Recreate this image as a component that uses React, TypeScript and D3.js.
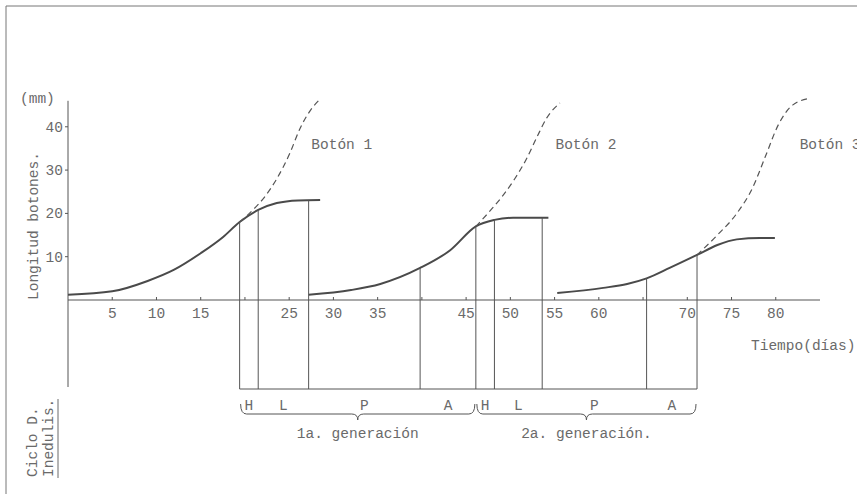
import React from "react";
import * as d3 from "d3";

// ---- data ----
const xTickValues = [5, 10, 15, 25, 30, 35, 45, 50, 55, 60, 70, 75, 80];
const xTickMarks = [5, 10, 15, 20, 25, 30, 35, 40, 45, 50, 55, 60, 65, 70, 75, 80];
const yTickValues = [10, 20, 30, 40];

// growth of bud 1 (solid) and its projected growth (dashed): [day, mm]
const bud1Solid: [number, number][] = [
  [0, 1.2], [5, 2.0], [9, 4.4], [12, 7.0], [15, 10.8], [17.5, 14.5],
  [19.4, 18], [21.5, 20.8], [23.6, 22.4], [26, 23], [28.5, 23.1],
];
const bud1Dashed: [number, number][] = [
  [19.4, 18], [20.9, 20.8], [22.3, 24], [23.6, 28], [25.1, 34], [26.2, 39.5],
  [27.4, 43.8], [28.5, 46.4],
];
const bud2Solid: [number, number][] = [
  [27.2, 1.2], [32, 2.3], [35.3, 3.7], [39.8, 7.4], [43.2, 11.5], [46.1, 17],
  [48.2, 18.5], [50.3, 19], [54.3, 19],
];
const bud2Dashed: [number, number][] = [
  [46.1, 17], [47.8, 20.8], [49.3, 24.5], [50.5, 28], [51.8, 32.5], [53.0, 37.6],
  [54.1, 42], [55.6, 45.5],
];
const bud3Solid: [number, number][] = [
  [55.3, 1.6], [60.5, 2.8], [63.2, 3.7], [65.4, 5], [68.0, 7.4], [71.1, 10.4],
  [73.4, 12.7], [75.6, 14], [78.2, 14.3], [79.9, 14.3],
];
const bud3Dashed: [number, number][] = [
  [71.1, 10.4], [73.4, 15], [75.6, 20], [77.4, 26], [78.8, 33], [80.3, 40.5],
  [81.9, 45], [83.9, 46.6],
];

const budLabels = ["Botón 1", "Botón 2", "Botón 3"];
const budLabelDays = [27.5, 55.1, 82.7];

// life-cycle phase boundaries (day, top of marker line in mm)
const boundaryDays = [19.4, 21.5, 27.2, 39.8, 46.1, 48.2, 53.6, 65.4, 71.1];
const boundaryTops = [18, 20.8, 23, 7.4, 17, 18.5, 19, 5, 10.4];
const phaseLabels = ["H", "L", "P", "A", "H", "L", "P", "A"];
const generations = ["1a. generación", "2a. generación."];
const generationSpans: [number, number][] = [[0, 4], [4, 8]];

const FONT = "'Liberation Mono', 'DejaVu Sans Mono', monospace";
const INK = "#555";
const TXT = "#6a6a6a";

export default function App() {
  const W = 857, H = 496;
  const x = d3.scaleLinear().domain([0, 85]).range([68, 820]);
  const y = d3.scaleLinear().domain([0, 46]).range([300, 100.8]);
  const line = d3
    .line<[number, number]>()
    .x((d) => x(d[0]))
    .y((d) => y(d[1]))
    .curve(d3.curveMonotoneX);

  const baseY = 389;
  const fs = 14.5;

  const brace = (x0: number, x1: number) => {
    const y0 = 404, y1 = 414, y2 = 420, r = 6;
    const xm = (x0 + x1) / 2;
    return `M${x0},${y0} Q${x0},${y1} ${x0 + r},${y1} L${xm - r},${y1} Q${xm},${y1} ${xm},${y2} Q${xm},${y1} ${xm + r},${y1} L${x1 - r},${y1} Q${x1},${y1} ${x1},${y0}`;
  };

  return (
    <svg width={W} height={H} style={{ position: "absolute", left: 0, top: 0, background: "#fff" }}>
      {/* frame */}
      <line x1={6} y1={6} x2={857} y2={6} stroke="#777" strokeWidth={1} />
      <line x1={6} y1={6} x2={6} y2={494} stroke="#777" strokeWidth={1} />

      {/* axes */}
      <line x1={x(0)} y1={y(46)} x2={x(0)} y2={baseY - 2} stroke={INK} strokeWidth={1} />
      <line x1={x(0)} y1={y(0)} x2={x(85)} y2={y(0)} stroke={INK} strokeWidth={1} />
      {xTickMarks.map((t) => (
        <line key={"xm" + t} x1={x(t)} x2={x(t)} y1={y(0) - 3} y2={y(0)} stroke={INK} />
      ))}
      {xTickValues.map((t) => (
        <text key={"xt" + t} x={x(t)} y={318} textAnchor="middle" fontFamily={FONT} fontSize={fs} fill={TXT}>
          {t}
        </text>
      ))}
      {yTickValues.map((t) => (
        <g key={"yt" + t}>
          <line x1={x(0) - 3} x2={x(0)} y1={y(t)} y2={y(t)} stroke={INK} />
          <text x={x(0) - 5} y={y(t) + 5} textAnchor="end" fontFamily={FONT} fontSize={fs} fill={TXT}>
            {t}
          </text>
        </g>
      ))}
      <text x={20} y={103} fontFamily={FONT} fontSize={fs} fill={TXT}>(mm)</text>
      <text x={751} y={350} fontFamily={FONT} fontSize={fs} fill={TXT}>Tiempo(días)</text>
      <text transform="translate(38,300) rotate(-90)" fontFamily={FONT} fontSize={fs} fill={TXT}>
        Longitud botones.
      </text>
      <text transform="translate(37,477) rotate(-90)" fontFamily={FONT} fontSize={fs} fill={TXT}>
        Ciclo D.
      </text>
      <text transform="translate(53,477) rotate(-90)" fontFamily={FONT} fontSize={fs} fill={TXT}>
        Inedulis.
      </text>
      <line x1={58} x2={58} y1={399} y2={478} stroke={TXT} strokeWidth={1} />

      {/* curves */}
      {[bud1Solid, bud2Solid, bud3Solid].map((s, i) => (
        <path key={"s" + i} d={line(s) || ""} fill="none" stroke="#4a4a4a" strokeWidth={2} />
      ))}
      {[bud1Dashed, bud2Dashed, bud3Dashed].map((s, i) => (
        <path key={"d" + i} d={line(s) || ""} fill="none" stroke="#555" strokeWidth={1.2} strokeDasharray="6,4" />
      ))}
      {budLabels.map((l, i) => (
        <text key={l} x={x(budLabelDays[i])} y={149} fontFamily={FONT} fontSize={fs} fill={TXT}>
          {l}
        </text>
      ))}

      {/* life cycle phases */}
      {boundaryDays.map((d, i) => (
        <line key={"b" + i} x1={x(d)} x2={x(d)} y1={y(boundaryTops[i])} y2={baseY} stroke={INK} strokeWidth={1} />
      ))}
      <line x1={x(boundaryDays[0])} x2={x(boundaryDays[boundaryDays.length - 1])} y1={baseY} y2={baseY} stroke={INK} />
      {phaseLabels.map((p, i) => (
        <text key={"p" + i} x={(x(boundaryDays[i]) + x(boundaryDays[i + 1])) / 2} y={410}
          textAnchor="middle" fontFamily={FONT} fontSize={fs} fill={TXT}>
          {p}
        </text>
      ))}
      {generations.map((g, i) => {
        const x0 = x(boundaryDays[generationSpans[i][0]]) + 1;
        const x1 = x(boundaryDays[generationSpans[i][1]]) - 1;
        return (
          <g key={g}>
            <path d={brace(x0, x1)} fill="none" stroke={INK} strokeWidth={1} />
            <text x={(x0 + x1) / 2} y={438} textAnchor="middle" fontFamily={FONT} fontSize={fs} fill={TXT}>
              {g}
            </text>
          </g>
        );
      })}
    </svg>
  );
}
